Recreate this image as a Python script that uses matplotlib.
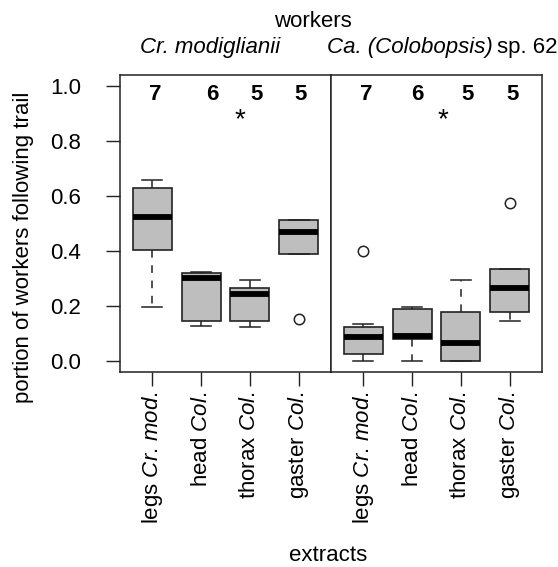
import matplotlib
matplotlib.use("Agg")
import matplotlib.pyplot as plt

plt.rcParams['font.family'] = ['Liberation Sans', 'DejaVu Sans']
plt.rcParams['mathtext.fontset'] = 'custom'
plt.rcParams['mathtext.rm'] = 'Liberation Sans'
plt.rcParams['mathtext.it'] = 'Liberation Sans:italic'

# data (portion of workers following trail)
tick_labels = [r'legs $\mathit{Cr.\,mod}$.', r'head $\mathit{Col}$.',
               r'thorax $\mathit{Col}$.', r'gaster $\mathit{Col}$.']
n_labels = ['7', '6', '5', '5']

# Cr. modiglianii workers
cr_whislo = [0.195, 0.127, 0.122, 0.388]
cr_q1 = [0.405, 0.146, 0.146, 0.388]
cr_med = [0.523, 0.303, 0.243, 0.469]
cr_q3 = [0.628, 0.320, 0.264, 0.511]
cr_whishi = [0.658, 0.324, 0.293, 0.511]
cr_fliers = [[], [], [], [0.151]]

# Ca. (Colobopsis) sp. 62 workers
ca_whislo = [0.0, 0.0, 0.0, 0.146]
ca_q1 = [0.025, 0.079, 0.0, 0.179]
ca_med = [0.088, 0.091, 0.064, 0.264]
ca_q3 = [0.122, 0.190, 0.179, 0.333]
ca_whishi = [0.134, 0.197, 0.293, 0.333]
ca_fliers = [[0.40], [], [], [0.574]]

n_xpos = [[1.06, 2.22, 3.13, 4.03], [1.07, 2.11, 3.13, 4.06]]
star_xpos = [2.8, 2.63]


def make_stats(lo, q1, med, q3, hi, fl):
    stats = []
    for i in range(len(med)):
        stats.append({'whislo': lo[i], 'q1': q1[i], 'med': med[i], 'q3': q3[i],
                      'whishi': hi[i], 'fliers': fl[i]})
    return stats


panels = [make_stats(cr_whislo, cr_q1, cr_med, cr_q3, cr_whishi, cr_fliers),
          make_stats(ca_whislo, ca_q1, ca_med, ca_q3, ca_whishi, ca_fliers)]

fig = plt.figure(figsize=(5.58, 5.67), dpi=100)
W, H = 558.0, 567.0
ax1 = fig.add_axes([120 / W, 1 - 372 / H, 211 / W, 297 / H])
ax2 = fig.add_axes([331 / W, 1 - 372 / H, 211 / W, 297 / H])

fs = 16
edge = '#222222'
for k, ax in enumerate([ax1, ax2]):
    ax.bxp(panels[k], positions=[1, 2, 3, 4], widths=0.8, capwidths=0.4,
           patch_artist=True, showfliers=True,
           boxprops=dict(facecolor='#bebebe', edgecolor=edge, linewidth=1.2),
           medianprops=dict(color='black', linewidth=4.2, solid_capstyle='butt'),
           whiskerprops=dict(color=edge, linewidth=1.1, linestyle=(0, (5, 5))),
           capprops=dict(color=edge, linewidth=1.1),
           flierprops=dict(marker='o', markerfacecolor='none', markeredgecolor=edge,
                           markersize=7.5, markeredgewidth=1.1))
    ax.set_xlim(0.34, 4.66)
    ax.set_ylim(-0.04, 1.04)
    ax.set_xticks([1, 2, 3, 4])
    ax.set_xticklabels(tick_labels, rotation=90, fontsize=fs)
    ax.tick_params(axis='x', length=10, width=1, pad=4, color=edge)
    for s in ax.spines.values():
        s.set_linewidth(1.1)
        s.set_color(edge)
    for i in range(4):
        ax.text(n_xpos[k][i], 0.948, n_labels[i], ha='center', va='baseline',
                fontsize=fs, fontweight='bold')
    ax.text(star_xpos[k], 0.851, '*', ha='center', va='baseline', fontsize=20)

ax1.set_yticks([0.0, 0.2, 0.4, 0.6, 0.8, 1.0])
ax1.set_yticklabels(['0.0', '0.2', '0.4', '0.6', '0.8', '1.0'], fontsize=fs)
ax1.tick_params(axis='y', length=10, width=1, pad=18, color=edge)
ax2.set_yticks([])

fig.text(313 / W, 1 - 27 / H, 'workers', ha='center', va='baseline', fontsize=fs)
fig.text(210 / W, 1 - 53 / H, 'Cr. modiglianii', ha='center', va='baseline',
         fontsize=fs, fontstyle='italic')
t_it = fig.text(327 / W, 1 - 53 / H, 'Ca. (Colobopsis)', ha='left', va='baseline',
                fontsize=fs, fontstyle='italic')
bb = t_it.get_window_extent(renderer=fig.canvas.get_renderer())
fig.text((bb.x1 + 4) / W, 1 - 53 / H, 'sp. 62', ha='left', va='baseline', fontsize=fs)
fig.text(24 / W, 1 - 247 / H, 'portion of workers following trail', rotation=90,
         ha='center', va='center', fontsize=fs)
fig.text(328.5 / W, 1 - 561 / H, 'extracts', ha='center', va='baseline', fontsize=fs)

fig.savefig('out.png', dpi=100)
